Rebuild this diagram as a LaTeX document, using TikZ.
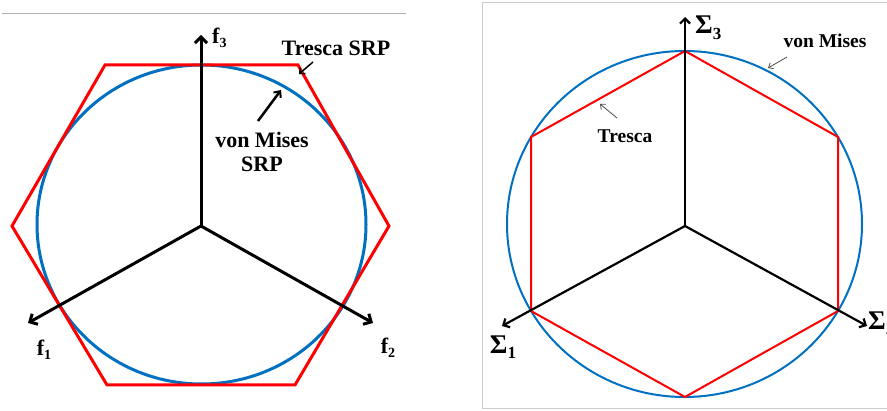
\documentclass[tikz,border=0pt]{standalone}
\usepackage{fontspec}
\setmainfont{Liberation Serif}
\usetikzlibrary{arrows.meta}
\definecolor{mred}{RGB}{255,0,0}
\definecolor{mblue}{RGB}{0,112,192}
\tikzset{
  axisL/.style={line width=3pt, -{Straight Barb[length=6pt,width=12pt,line width=3pt]}},
  axisR/.style={line width=2.2pt, -{Straight Barb[length=5pt,width=10pt,line width=2.2pt]}},
  trescaL/.style={mred, line width=3pt, line join=miter},
  misesL/.style={mblue, line width=3pt},
  trescaR/.style={mred, line width=2pt, line join=miter},
  misesR/.style={mblue, line width=2pt},
  bigtxt/.style={font=\fontsize{22}{26}\selectfont\bfseries, inner sep=0pt},
  midtxt/.style={font=\fontsize{19.5}{23}\selectfont\bfseries, inner sep=0pt},
  sigtxt/.style={font=\fontsize{27}{30}\selectfont\bfseries, inner sep=0pt},
  pointer/.style={line width=2.5pt, -{Straight Barb[length=5pt,width=9pt,line width=2pt]}},
  thinptr/.style={black!70, line width=0.8pt, -{Straight Barb[length=4pt,width=7pt,line width=0.8pt]}},
  frame/.style={black!20, line width=1pt}
}
\newcommand{\sub}[1]{\raisebox{-0.35ex}{\fontsize{14}{16}\selectfont\bfseries #1}}
\newcommand{\ssub}[1]{\raisebox{-0.45ex}{\fontsize{17}{18}\selectfont\bfseries #1}}
\begin{document}
\begin{tikzpicture}[x=1pt,y=-1pt]
\useasboundingbox (0,0) rectangle (887,411);
% frames
\draw[frame, black!30] (2,14) -- (406,14);
\draw[frame] (887,3) -- (482,3) -- (482,409) -- (887,409);

% ---------- left panel ----------
\coordinate (O1) at (201,226);
\coordinate (F3) at (201,35);
\coordinate (F1) at (28,323);
\coordinate (F2) at (373,323);
\draw[misesL] (201.5,224.5) ellipse [x radius=164.5, y radius=159.5];
\draw[trescaL] (105,65) -- (298,65) -- (389,226) -- (295,385) -- (107,385) -- (12,226) -- cycle;
\draw[axisL] (O1) -- (F3);
\draw[axisL] (O1) -- (F1);
\draw[axisL] (O1) -- (F2);
\node[bigtxt, anchor=west] (lf3) at (212,38) {f\sub{3}};
\node[bigtxt] (lf1) at (44,350) {f\sub{1}};
\node[bigtxt] (lf2) at (388,348) {f\sub{2}};
\node[bigtxt] (tsrp) at (336,48) {Tresca SRP};
\coordinate (tsrpA) at (313,62);
\coordinate (tsrpB) at (299,74);
\draw[line width=1.5pt, -{Straight Barb[length=4pt,width=8pt,line width=1.5pt]}] (tsrpA) -- (tsrpB);
\node[bigtxt, align=center] (vmsrp) at (262,152) {von Mises\\[-2pt]SRP};
\coordinate (vmA) at (258,121);
\coordinate (vmB) at (281,90);
\draw[pointer] (vmA) -- (vmB);

% ---------- right panel ----------
\coordinate (O2) at (685,226);
\coordinate (S3) at (685,17);
\coordinate (S1) at (502,326);
\coordinate (S2) at (867,326);
\draw[misesR] (684.5,224) ellipse [x radius=177.5, y radius=173];
\draw[trescaR] (685,51) -- (838,137) -- (838,311) -- (685,397) -- (531,311) -- (531,137) -- cycle;
\draw[axisR] (O2) -- (S3);
\draw[axisR] (O2) -- (S1);
\draw[axisR] (O2) -- (S2);
\node[sigtxt, anchor=west] (ls3) at (695,28) {Σ\ssub{3}};
\node[sigtxt] (ls1) at (503,347) {Σ\ssub{1}};
\node[sigtxt, anchor=west] (ls2) at (868,323) {Σ\ssub{2}};
\node[midtxt] (vm) at (825,41) {von Mises};
\coordinate (vmrA) at (787,57);
\coordinate (vmrB) at (768,68);
\draw[thinptr] (vmrA) -- (vmrB);
\node[midtxt] (tr) at (625,136) {Tresca};
\coordinate (trA) at (617,118);
\coordinate (trB) at (600,104);
\draw[thinptr] (trA) -- (trB);
\end{tikzpicture}
\end{document}
